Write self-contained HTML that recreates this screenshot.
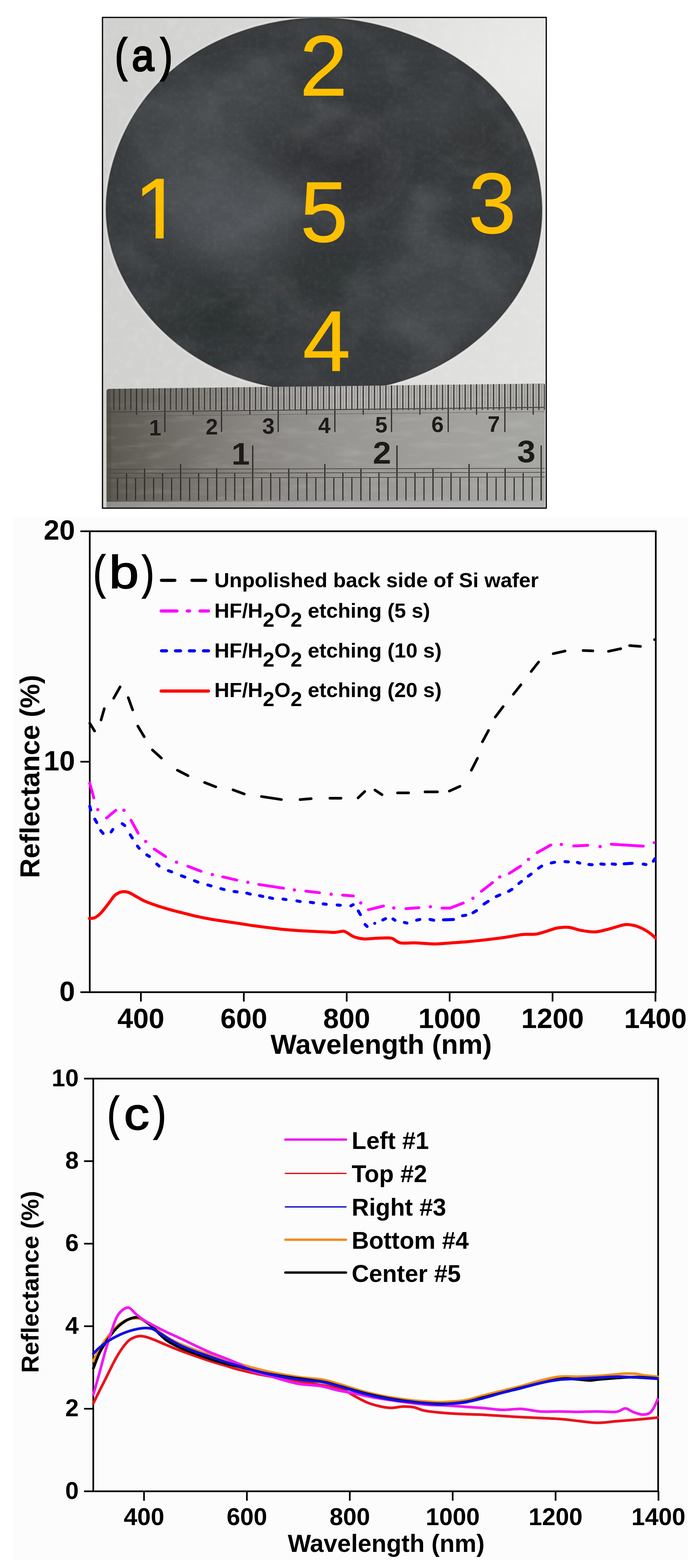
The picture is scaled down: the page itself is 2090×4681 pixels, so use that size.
<!DOCTYPE html>
<html><head><meta charset="utf-8">
<style>
html,body{margin:0;padding:0;background:#fff;}
body{width:2090px;height:4681px;position:relative;overflow:hidden;font-family:"Liberation Sans",Arial,sans-serif;}
.abs{position:absolute;}
#bgbox{left:38px;top:1543px;width:2015px;height:3115px;background:#fcfcfc;}
</style></head>
<body>
<div id="bgbox" class="abs"></div>
<style>
#frame{left:304px;top:50px;width:1321px;height:1461px;border:4px solid #151515;border-radius:2px;overflow:hidden;
background:radial-gradient(ellipse 500px 400px at 1300px 150px, rgba(235,235,233,0.9), rgba(235,235,233,0) 100%),linear-gradient(90deg,#d0d0ce 0%,#d6d6d4 35%,#dddddb 70%,#e2e2e0 100%);}
.num{position:absolute;color:#ffc000;font-size:256px;line-height:1;font-family:"Liberation Sans",Arial,sans-serif;-webkit-text-stroke:1.5px #ffc000;}
</style>
<div id="frame" class="abs"></div>
<svg class="abs" style="left:0;top:0" width="1700" height="1530" viewBox="0 0 1700 1530">
<defs>
<filter id="soft" x="-5%" y="-5%" width="110%" height="110%"><feGaussianBlur stdDeviation="1.2"/></filter>
<filter id="blur30" x="-50%" y="-50%" width="200%" height="200%"><feGaussianBlur stdDeviation="30"/></filter>
<clipPath id="wclip"><path d="M317.9,604.0 L318.4,594.5 L319.1,585.0 L320.1,575.5 L321.2,566.0 L322.4,556.6 L323.9,547.1 L325.6,537.7 L327.4,528.4 L329.4,519.0 L331.5,509.7 L333.8,500.5 L336.3,491.2 L339.0,482.0 L341.8,472.8 L344.7,463.7 L347.8,454.6 L351.1,445.6 L354.5,436.6 L358.1,427.6 L361.8,418.7 L365.7,409.8 L369.7,401.0 L373.9,392.2 L378.3,383.4 L382.7,374.8 L387.4,366.1 L392.2,357.6 L397.2,349.0 L402.3,340.6 L407.6,332.2 L413.0,323.9 L418.7,315.7 L424.4,307.5 L430.4,299.4 L436.5,291.4 L442.8,283.5 L449.3,275.6 L455.9,267.9 L462.7,260.3 L469.6,252.7 L476.8,245.3 L484.1,238.0 L491.5,230.8 L499.1,223.7 L506.9,216.7 L514.9,209.8 L523.0,203.1 L531.2,196.5 L539.6,190.0 L548.2,183.7 L556.8,177.5 L565.7,171.4 L574.6,165.5 L583.7,159.7 L592.9,154.0 L602.3,148.5 L611.7,143.2 L621.3,137.9 L631.0,132.9 L640.8,127.9 L650.7,123.2 L660.7,118.5 L670.8,114.0 L681.0,109.7 L691.3,105.5 L701.6,101.5 L712.1,97.6 L722.6,93.9 L733.2,90.3 L743.9,86.9 L754.7,83.6 L765.5,80.5 L776.4,77.6 L787.4,74.9 L798.4,72.3 L809.5,69.8 L820.6,67.6 L831.7,65.5 L842.9,63.6 L854.2,61.9 L865.5,60.3 L876.8,58.9 L888.2,57.7 L899.5,56.7 L910.9,55.9 L922.3,55.2 L933.7,54.8 L945.2,54.5 L956.6,54.4 L968.0,54.5 L979.4,54.8 L990.8,55.3 L1002.2,55.9 L1013.6,56.8 L1024.9,57.8 L1036.2,59.0 L1047.5,60.4 L1058.7,61.9 L1069.9,63.6 L1081.0,65.5 L1092.1,67.6 L1103.2,69.8 L1114.2,72.2 L1125.1,74.7 L1136.0,77.4 L1146.8,80.2 L1157.6,83.2 L1168.2,86.3 L1178.9,89.6 L1189.4,93.0 L1199.9,96.5 L1210.3,100.2 L1220.7,104.0 L1230.9,107.9 L1241.1,112.0 L1251.3,116.2 L1261.3,120.5 L1271.3,124.9 L1281.1,129.5 L1290.9,134.2 L1300.6,139.0 L1310.3,143.9 L1319.8,149.0 L1329.2,154.1 L1338.6,159.4 L1347.8,164.9 L1357.0,170.4 L1366.0,176.1 L1374.9,181.9 L1383.7,187.8 L1392.4,193.9 L1401.0,200.1 L1409.4,206.4 L1417.7,212.9 L1425.8,219.4 L1433.8,226.1 L1441.7,232.9 L1449.4,239.9 L1457.0,247.0 L1464.3,254.2 L1471.6,261.5 L1478.6,268.9 L1485.5,276.4 L1492.2,284.1 L1498.7,291.8 L1505.1,299.7 L1511.2,307.7 L1517.2,315.7 L1523.0,323.9 L1528.6,332.1 L1534.1,340.4 L1539.3,348.8 L1544.3,357.3 L1549.2,365.9 L1553.9,374.5 L1558.4,383.2 L1562.7,391.9 L1566.9,400.7 L1570.9,409.6 L1574.7,418.5 L1578.3,427.5 L1581.8,436.5 L1585.1,445.5 L1588.2,454.6 L1591.2,463.7 L1594.0,472.9 L1596.7,482.1 L1599.1,491.3 L1601.5,500.6 L1603.7,509.8 L1605.7,519.2 L1607.6,528.5 L1609.3,537.9 L1610.8,547.2 L1612.2,556.7 L1613.4,566.1 L1614.5,575.5 L1615.4,585.0 L1616.1,594.5 L1616.7,604.0 L1617.1,613.5 L1617.3,623.0 L1617.3,632.6 L1617.1,642.1 L1616.8,651.7 L1616.2,661.2 L1615.5,670.8 L1614.6,680.3 L1613.4,689.9 L1612.1,699.4 L1610.5,708.9 L1608.8,718.4 L1606.8,727.9 L1604.7,737.3 L1602.3,746.8 L1599.7,756.2 L1596.9,765.5 L1593.9,774.8 L1590.6,784.1 L1587.2,793.3 L1583.5,802.5 L1579.7,811.6 L1575.6,820.6 L1571.3,829.6 L1566.9,838.6 L1562.2,847.4 L1557.3,856.2 L1552.3,865.0 L1547.0,873.6 L1541.6,882.2 L1536.0,890.7 L1530.2,899.1 L1524.2,907.4 L1518.1,915.7 L1511.8,923.8 L1505.3,931.9 L1498.7,939.9 L1491.8,947.8 L1484.9,955.6 L1477.8,963.3 L1470.5,970.9 L1463.0,978.4 L1455.5,985.8 L1447.7,993.1 L1439.8,1000.3 L1431.8,1007.4 L1423.6,1014.4 L1415.3,1021.3 L1406.8,1028.0 L1398.2,1034.7 L1389.5,1041.2 L1380.6,1047.6 L1371.5,1053.8 L1362.4,1059.9 L1353.0,1065.9 L1343.6,1071.8 L1334.0,1077.4 L1324.3,1083.0 L1314.5,1088.4 L1304.5,1093.6 L1294.4,1098.7 L1284.2,1103.6 L1273.9,1108.3 L1263.5,1112.9 L1252.9,1117.3 L1242.3,1121.5 L1231.5,1125.5 L1220.7,1129.4 L1209.8,1133.1 L1198.8,1136.6 L1187.7,1139.9 L1176.5,1143.0 L1165.3,1146.0 L1153.9,1148.7 L1142.6,1151.3 L1131.2,1153.7 L1119.7,1155.9 L1108.2,1158.0 L1096.6,1159.8 L1085.0,1161.5 L1073.4,1163.0 L1061.8,1164.3 L1050.1,1165.5 L1038.4,1166.5 L1026.7,1167.3 L1014.9,1168.0 L1003.2,1168.5 L991.5,1168.8 L979.7,1169.0 L968.0,1169.0 L956.3,1168.8 L944.5,1168.5 L932.8,1168.0 L921.1,1167.3 L909.4,1166.5 L897.7,1165.6 L886.1,1164.5 L874.4,1163.2 L862.8,1161.7 L851.3,1160.1 L839.7,1158.4 L828.2,1156.4 L816.7,1154.3 L805.3,1152.0 L794.0,1149.6 L782.6,1147.0 L771.4,1144.2 L760.2,1141.2 L749.1,1138.1 L738.0,1134.8 L727.0,1131.3 L716.1,1127.7 L705.3,1123.8 L694.6,1119.8 L684.0,1115.6 L673.5,1111.3 L663.1,1106.7 L652.8,1102.0 L642.6,1097.1 L632.5,1092.1 L622.6,1086.9 L612.8,1081.5 L603.1,1076.0 L593.6,1070.3 L584.2,1064.5 L574.9,1058.5 L565.8,1052.4 L556.8,1046.1 L548.0,1039.7 L539.3,1033.1 L530.8,1026.5 L522.4,1019.7 L514.2,1012.8 L506.1,1005.8 L498.2,998.6 L490.4,991.4 L482.8,984.1 L475.3,976.6 L468.0,969.1 L460.9,961.5 L453.9,953.7 L447.0,945.9 L440.3,938.0 L433.8,930.0 L427.4,922.0 L421.1,913.9 L415.0,905.6 L409.1,897.4 L403.4,889.0 L397.8,880.6 L392.3,872.1 L387.0,863.5 L381.9,854.8 L377.0,846.1 L372.3,837.4 L367.7,828.5 L363.3,819.6 L359.1,810.7 L355.0,801.6 L351.2,792.6 L347.6,783.5 L344.1,774.3 L340.9,765.1 L337.8,755.8 L335.0,746.5 L332.4,737.1 L330.0,727.7 L327.8,718.3 L325.8,708.9 L324.0,699.4 L322.4,689.9 L321.1,680.4 L319.9,670.8 L319.0,661.3 L318.3,651.7 L317.8,642.2 L317.5,632.6 L317.4,623.1 L317.6,613.5 Z"/></clipPath>
<clipPath id="rclip"><path d="M326,1161 L1622,1145 Q1627,1145 1627,1150 L1627,1515 L318,1515 L318,1169 Q318,1161 326,1161 Z"/></clipPath>
<linearGradient id="rgrad" x1="318" y1="0" x2="1627" y2="0" gradientUnits="userSpaceOnUse"><stop offset="0" stop-color="#5a5650"/><stop offset="0.1" stop-color="#69655f"/><stop offset="0.3" stop-color="#86837f"/><stop offset="0.55" stop-color="#999794"/><stop offset="0.8" stop-color="#a2a19e"/><stop offset="1" stop-color="#a6a6a3"/></linearGradient>
</defs>
<filter id="bgnoise" x="0" y="0" width="100%" height="100%"><feTurbulence type="fractalNoise" baseFrequency="0.04" numOctaves="3" seed="11"/><feColorMatrix type="matrix" values="0 0 0 0 1  0 0 0 0 1  0 0 0 0 1  0 0 1.6 0 -0.75"/></filter>
<rect x="308" y="54" width="1321" height="1461" filter="url(#bgnoise)" opacity="0.18"/>
<filter id="halo" x="-5%" y="-5%" width="110%" height="110%"><feGaussianBlur stdDeviation="3"/></filter>
<path d="M317.9,604.0 L318.4,594.5 L319.1,585.0 L320.1,575.5 L321.2,566.0 L322.4,556.6 L323.9,547.1 L325.6,537.7 L327.4,528.4 L329.4,519.0 L331.5,509.7 L333.8,500.5 L336.3,491.2 L339.0,482.0 L341.8,472.8 L344.7,463.7 L347.8,454.6 L351.1,445.6 L354.5,436.6 L358.1,427.6 L361.8,418.7 L365.7,409.8 L369.7,401.0 L373.9,392.2 L378.3,383.4 L382.7,374.8 L387.4,366.1 L392.2,357.6 L397.2,349.0 L402.3,340.6 L407.6,332.2 L413.0,323.9 L418.7,315.7 L424.4,307.5 L430.4,299.4 L436.5,291.4 L442.8,283.5 L449.3,275.6 L455.9,267.9 L462.7,260.3 L469.6,252.7 L476.8,245.3 L484.1,238.0 L491.5,230.8 L499.1,223.7 L506.9,216.7 L514.9,209.8 L523.0,203.1 L531.2,196.5 L539.6,190.0 L548.2,183.7 L556.8,177.5 L565.7,171.4 L574.6,165.5 L583.7,159.7 L592.9,154.0 L602.3,148.5 L611.7,143.2 L621.3,137.9 L631.0,132.9 L640.8,127.9 L650.7,123.2 L660.7,118.5 L670.8,114.0 L681.0,109.7 L691.3,105.5 L701.6,101.5 L712.1,97.6 L722.6,93.9 L733.2,90.3 L743.9,86.9 L754.7,83.6 L765.5,80.5 L776.4,77.6 L787.4,74.9 L798.4,72.3 L809.5,69.8 L820.6,67.6 L831.7,65.5 L842.9,63.6 L854.2,61.9 L865.5,60.3 L876.8,58.9 L888.2,57.7 L899.5,56.7 L910.9,55.9 L922.3,55.2 L933.7,54.8 L945.2,54.5 L956.6,54.4 L968.0,54.5 L979.4,54.8 L990.8,55.3 L1002.2,55.9 L1013.6,56.8 L1024.9,57.8 L1036.2,59.0 L1047.5,60.4 L1058.7,61.9 L1069.9,63.6 L1081.0,65.5 L1092.1,67.6 L1103.2,69.8 L1114.2,72.2 L1125.1,74.7 L1136.0,77.4 L1146.8,80.2 L1157.6,83.2 L1168.2,86.3 L1178.9,89.6 L1189.4,93.0 L1199.9,96.5 L1210.3,100.2 L1220.7,104.0 L1230.9,107.9 L1241.1,112.0 L1251.3,116.2 L1261.3,120.5 L1271.3,124.9 L1281.1,129.5 L1290.9,134.2 L1300.6,139.0 L1310.3,143.9 L1319.8,149.0 L1329.2,154.1 L1338.6,159.4 L1347.8,164.9 L1357.0,170.4 L1366.0,176.1 L1374.9,181.9 L1383.7,187.8 L1392.4,193.9 L1401.0,200.1 L1409.4,206.4 L1417.7,212.9 L1425.8,219.4 L1433.8,226.1 L1441.7,232.9 L1449.4,239.9 L1457.0,247.0 L1464.3,254.2 L1471.6,261.5 L1478.6,268.9 L1485.5,276.4 L1492.2,284.1 L1498.7,291.8 L1505.1,299.7 L1511.2,307.7 L1517.2,315.7 L1523.0,323.9 L1528.6,332.1 L1534.1,340.4 L1539.3,348.8 L1544.3,357.3 L1549.2,365.9 L1553.9,374.5 L1558.4,383.2 L1562.7,391.9 L1566.9,400.7 L1570.9,409.6 L1574.7,418.5 L1578.3,427.5 L1581.8,436.5 L1585.1,445.5 L1588.2,454.6 L1591.2,463.7 L1594.0,472.9 L1596.7,482.1 L1599.1,491.3 L1601.5,500.6 L1603.7,509.8 L1605.7,519.2 L1607.6,528.5 L1609.3,537.9 L1610.8,547.2 L1612.2,556.7 L1613.4,566.1 L1614.5,575.5 L1615.4,585.0 L1616.1,594.5 L1616.7,604.0 L1617.1,613.5 L1617.3,623.0 L1617.3,632.6 L1617.1,642.1 L1616.8,651.7 L1616.2,661.2 L1615.5,670.8 L1614.6,680.3 L1613.4,689.9 L1612.1,699.4 L1610.5,708.9 L1608.8,718.4 L1606.8,727.9 L1604.7,737.3 L1602.3,746.8 L1599.7,756.2 L1596.9,765.5 L1593.9,774.8 L1590.6,784.1 L1587.2,793.3 L1583.5,802.5 L1579.7,811.6 L1575.6,820.6 L1571.3,829.6 L1566.9,838.6 L1562.2,847.4 L1557.3,856.2 L1552.3,865.0 L1547.0,873.6 L1541.6,882.2 L1536.0,890.7 L1530.2,899.1 L1524.2,907.4 L1518.1,915.7 L1511.8,923.8 L1505.3,931.9 L1498.7,939.9 L1491.8,947.8 L1484.9,955.6 L1477.8,963.3 L1470.5,970.9 L1463.0,978.4 L1455.5,985.8 L1447.7,993.1 L1439.8,1000.3 L1431.8,1007.4 L1423.6,1014.4 L1415.3,1021.3 L1406.8,1028.0 L1398.2,1034.7 L1389.5,1041.2 L1380.6,1047.6 L1371.5,1053.8 L1362.4,1059.9 L1353.0,1065.9 L1343.6,1071.8 L1334.0,1077.4 L1324.3,1083.0 L1314.5,1088.4 L1304.5,1093.6 L1294.4,1098.7 L1284.2,1103.6 L1273.9,1108.3 L1263.5,1112.9 L1252.9,1117.3 L1242.3,1121.5 L1231.5,1125.5 L1220.7,1129.4 L1209.8,1133.1 L1198.8,1136.6 L1187.7,1139.9 L1176.5,1143.0 L1165.3,1146.0 L1153.9,1148.7 L1142.6,1151.3 L1131.2,1153.7 L1119.7,1155.9 L1108.2,1158.0 L1096.6,1159.8 L1085.0,1161.5 L1073.4,1163.0 L1061.8,1164.3 L1050.1,1165.5 L1038.4,1166.5 L1026.7,1167.3 L1014.9,1168.0 L1003.2,1168.5 L991.5,1168.8 L979.7,1169.0 L968.0,1169.0 L956.3,1168.8 L944.5,1168.5 L932.8,1168.0 L921.1,1167.3 L909.4,1166.5 L897.7,1165.6 L886.1,1164.5 L874.4,1163.2 L862.8,1161.7 L851.3,1160.1 L839.7,1158.4 L828.2,1156.4 L816.7,1154.3 L805.3,1152.0 L794.0,1149.6 L782.6,1147.0 L771.4,1144.2 L760.2,1141.2 L749.1,1138.1 L738.0,1134.8 L727.0,1131.3 L716.1,1127.7 L705.3,1123.8 L694.6,1119.8 L684.0,1115.6 L673.5,1111.3 L663.1,1106.7 L652.8,1102.0 L642.6,1097.1 L632.5,1092.1 L622.6,1086.9 L612.8,1081.5 L603.1,1076.0 L593.6,1070.3 L584.2,1064.5 L574.9,1058.5 L565.8,1052.4 L556.8,1046.1 L548.0,1039.7 L539.3,1033.1 L530.8,1026.5 L522.4,1019.7 L514.2,1012.8 L506.1,1005.8 L498.2,998.6 L490.4,991.4 L482.8,984.1 L475.3,976.6 L468.0,969.1 L460.9,961.5 L453.9,953.7 L447.0,945.9 L440.3,938.0 L433.8,930.0 L427.4,922.0 L421.1,913.9 L415.0,905.6 L409.1,897.4 L403.4,889.0 L397.8,880.6 L392.3,872.1 L387.0,863.5 L381.9,854.8 L377.0,846.1 L372.3,837.4 L367.7,828.5 L363.3,819.6 L359.1,810.7 L355.0,801.6 L351.2,792.6 L347.6,783.5 L344.1,774.3 L340.9,765.1 L337.8,755.8 L335.0,746.5 L332.4,737.1 L330.0,727.7 L327.8,718.3 L325.8,708.9 L324.0,699.4 L322.4,689.9 L321.1,680.4 L319.9,670.8 L319.0,661.3 L318.3,651.7 L317.8,642.2 L317.5,632.6 L317.4,623.1 L317.6,613.5 Z" fill="none" stroke="#f4f4f2" stroke-width="10" opacity="0.6" filter="url(#halo)"/>
<g filter="url(#soft)"><path d="M317.9,604.0 L318.4,594.5 L319.1,585.0 L320.1,575.5 L321.2,566.0 L322.4,556.6 L323.9,547.1 L325.6,537.7 L327.4,528.4 L329.4,519.0 L331.5,509.7 L333.8,500.5 L336.3,491.2 L339.0,482.0 L341.8,472.8 L344.7,463.7 L347.8,454.6 L351.1,445.6 L354.5,436.6 L358.1,427.6 L361.8,418.7 L365.7,409.8 L369.7,401.0 L373.9,392.2 L378.3,383.4 L382.7,374.8 L387.4,366.1 L392.2,357.6 L397.2,349.0 L402.3,340.6 L407.6,332.2 L413.0,323.9 L418.7,315.7 L424.4,307.5 L430.4,299.4 L436.5,291.4 L442.8,283.5 L449.3,275.6 L455.9,267.9 L462.7,260.3 L469.6,252.7 L476.8,245.3 L484.1,238.0 L491.5,230.8 L499.1,223.7 L506.9,216.7 L514.9,209.8 L523.0,203.1 L531.2,196.5 L539.6,190.0 L548.2,183.7 L556.8,177.5 L565.7,171.4 L574.6,165.5 L583.7,159.7 L592.9,154.0 L602.3,148.5 L611.7,143.2 L621.3,137.9 L631.0,132.9 L640.8,127.9 L650.7,123.2 L660.7,118.5 L670.8,114.0 L681.0,109.7 L691.3,105.5 L701.6,101.5 L712.1,97.6 L722.6,93.9 L733.2,90.3 L743.9,86.9 L754.7,83.6 L765.5,80.5 L776.4,77.6 L787.4,74.9 L798.4,72.3 L809.5,69.8 L820.6,67.6 L831.7,65.5 L842.9,63.6 L854.2,61.9 L865.5,60.3 L876.8,58.9 L888.2,57.7 L899.5,56.7 L910.9,55.9 L922.3,55.2 L933.7,54.8 L945.2,54.5 L956.6,54.4 L968.0,54.5 L979.4,54.8 L990.8,55.3 L1002.2,55.9 L1013.6,56.8 L1024.9,57.8 L1036.2,59.0 L1047.5,60.4 L1058.7,61.9 L1069.9,63.6 L1081.0,65.5 L1092.1,67.6 L1103.2,69.8 L1114.2,72.2 L1125.1,74.7 L1136.0,77.4 L1146.8,80.2 L1157.6,83.2 L1168.2,86.3 L1178.9,89.6 L1189.4,93.0 L1199.9,96.5 L1210.3,100.2 L1220.7,104.0 L1230.9,107.9 L1241.1,112.0 L1251.3,116.2 L1261.3,120.5 L1271.3,124.9 L1281.1,129.5 L1290.9,134.2 L1300.6,139.0 L1310.3,143.9 L1319.8,149.0 L1329.2,154.1 L1338.6,159.4 L1347.8,164.9 L1357.0,170.4 L1366.0,176.1 L1374.9,181.9 L1383.7,187.8 L1392.4,193.9 L1401.0,200.1 L1409.4,206.4 L1417.7,212.9 L1425.8,219.4 L1433.8,226.1 L1441.7,232.9 L1449.4,239.9 L1457.0,247.0 L1464.3,254.2 L1471.6,261.5 L1478.6,268.9 L1485.5,276.4 L1492.2,284.1 L1498.7,291.8 L1505.1,299.7 L1511.2,307.7 L1517.2,315.7 L1523.0,323.9 L1528.6,332.1 L1534.1,340.4 L1539.3,348.8 L1544.3,357.3 L1549.2,365.9 L1553.9,374.5 L1558.4,383.2 L1562.7,391.9 L1566.9,400.7 L1570.9,409.6 L1574.7,418.5 L1578.3,427.5 L1581.8,436.5 L1585.1,445.5 L1588.2,454.6 L1591.2,463.7 L1594.0,472.9 L1596.7,482.1 L1599.1,491.3 L1601.5,500.6 L1603.7,509.8 L1605.7,519.2 L1607.6,528.5 L1609.3,537.9 L1610.8,547.2 L1612.2,556.7 L1613.4,566.1 L1614.5,575.5 L1615.4,585.0 L1616.1,594.5 L1616.7,604.0 L1617.1,613.5 L1617.3,623.0 L1617.3,632.6 L1617.1,642.1 L1616.8,651.7 L1616.2,661.2 L1615.5,670.8 L1614.6,680.3 L1613.4,689.9 L1612.1,699.4 L1610.5,708.9 L1608.8,718.4 L1606.8,727.9 L1604.7,737.3 L1602.3,746.8 L1599.7,756.2 L1596.9,765.5 L1593.9,774.8 L1590.6,784.1 L1587.2,793.3 L1583.5,802.5 L1579.7,811.6 L1575.6,820.6 L1571.3,829.6 L1566.9,838.6 L1562.2,847.4 L1557.3,856.2 L1552.3,865.0 L1547.0,873.6 L1541.6,882.2 L1536.0,890.7 L1530.2,899.1 L1524.2,907.4 L1518.1,915.7 L1511.8,923.8 L1505.3,931.9 L1498.7,939.9 L1491.8,947.8 L1484.9,955.6 L1477.8,963.3 L1470.5,970.9 L1463.0,978.4 L1455.5,985.8 L1447.7,993.1 L1439.8,1000.3 L1431.8,1007.4 L1423.6,1014.4 L1415.3,1021.3 L1406.8,1028.0 L1398.2,1034.7 L1389.5,1041.2 L1380.6,1047.6 L1371.5,1053.8 L1362.4,1059.9 L1353.0,1065.9 L1343.6,1071.8 L1334.0,1077.4 L1324.3,1083.0 L1314.5,1088.4 L1304.5,1093.6 L1294.4,1098.7 L1284.2,1103.6 L1273.9,1108.3 L1263.5,1112.9 L1252.9,1117.3 L1242.3,1121.5 L1231.5,1125.5 L1220.7,1129.4 L1209.8,1133.1 L1198.8,1136.6 L1187.7,1139.9 L1176.5,1143.0 L1165.3,1146.0 L1153.9,1148.7 L1142.6,1151.3 L1131.2,1153.7 L1119.7,1155.9 L1108.2,1158.0 L1096.6,1159.8 L1085.0,1161.5 L1073.4,1163.0 L1061.8,1164.3 L1050.1,1165.5 L1038.4,1166.5 L1026.7,1167.3 L1014.9,1168.0 L1003.2,1168.5 L991.5,1168.8 L979.7,1169.0 L968.0,1169.0 L956.3,1168.8 L944.5,1168.5 L932.8,1168.0 L921.1,1167.3 L909.4,1166.5 L897.7,1165.6 L886.1,1164.5 L874.4,1163.2 L862.8,1161.7 L851.3,1160.1 L839.7,1158.4 L828.2,1156.4 L816.7,1154.3 L805.3,1152.0 L794.0,1149.6 L782.6,1147.0 L771.4,1144.2 L760.2,1141.2 L749.1,1138.1 L738.0,1134.8 L727.0,1131.3 L716.1,1127.7 L705.3,1123.8 L694.6,1119.8 L684.0,1115.6 L673.5,1111.3 L663.1,1106.7 L652.8,1102.0 L642.6,1097.1 L632.5,1092.1 L622.6,1086.9 L612.8,1081.5 L603.1,1076.0 L593.6,1070.3 L584.2,1064.5 L574.9,1058.5 L565.8,1052.4 L556.8,1046.1 L548.0,1039.7 L539.3,1033.1 L530.8,1026.5 L522.4,1019.7 L514.2,1012.8 L506.1,1005.8 L498.2,998.6 L490.4,991.4 L482.8,984.1 L475.3,976.6 L468.0,969.1 L460.9,961.5 L453.9,953.7 L447.0,945.9 L440.3,938.0 L433.8,930.0 L427.4,922.0 L421.1,913.9 L415.0,905.6 L409.1,897.4 L403.4,889.0 L397.8,880.6 L392.3,872.1 L387.0,863.5 L381.9,854.8 L377.0,846.1 L372.3,837.4 L367.7,828.5 L363.3,819.6 L359.1,810.7 L355.0,801.6 L351.2,792.6 L347.6,783.5 L344.1,774.3 L340.9,765.1 L337.8,755.8 L335.0,746.5 L332.4,737.1 L330.0,727.7 L327.8,718.3 L325.8,708.9 L324.0,699.4 L322.4,689.9 L321.1,680.4 L319.9,670.8 L319.0,661.3 L318.3,651.7 L317.8,642.2 L317.5,632.6 L317.4,623.1 L317.6,613.5 Z" fill="#393a3c" stroke="#2a2b2c" stroke-width="3"/></g>
<filter id="wlight" x="0" y="0" width="100%" height="100%"><feTurbulence type="fractalNoise" baseFrequency="0.0045 0.006" numOctaves="4" seed="7"/><feColorMatrix type="matrix" values="0 0 0 0 0.31  0 0 0 0 0.325  0 0 0 0 0.33  2.6 0 0 0 -1.2"/></filter>
<filter id="wdark" x="0" y="0" width="100%" height="100%"><feTurbulence type="fractalNoise" baseFrequency="0.005 0.007" numOctaves="4" seed="21"/><feColorMatrix type="matrix" values="0 0 0 0 0.16  0 0 0 0 0.17  0 0 0 0 0.18  0 2.4 0 0 -1.15"/></filter>
<filter id="wgrain" x="0" y="0" width="100%" height="100%"><feTurbulence type="fractalNoise" baseFrequency="0.08" numOctaves="2" seed="4"/><feColorMatrix type="matrix" values="0 0 0 0 0.5  0 0 0 0 0.5  0 0 0 0 0.52  0 0 1.4 0 -0.62"/></filter>
<filter id="pblur" x="-30%" y="-30%" width="160%" height="160%"><feGaussianBlur stdDeviation="45"/></filter>
<g clip-path="url(#wclip)">
<g filter="url(#pblur)">
<ellipse cx="690" cy="640" rx="200" ry="150" fill="#595c61" opacity="0.6"/>
<ellipse cx="560" cy="480" rx="150" ry="220" fill="#52565a" opacity="0.5"/>
<ellipse cx="740" cy="300" rx="150" ry="90" fill="#505458" opacity="0.5"/>
<ellipse cx="1020" cy="480" rx="170" ry="130" fill="#2c2e31" opacity="0.6"/>
<ellipse cx="1020" cy="820" rx="170" ry="100" fill="#2e3033" opacity="0.5"/>
<ellipse cx="640" cy="940" rx="140" ry="130" fill="#2a2c2e" opacity="0.6"/>
<ellipse cx="1300" cy="880" rx="200" ry="150" fill="#4c5054" opacity="0.5"/>
<ellipse cx="1310" cy="330" rx="100" ry="60" fill="#505458" opacity="0.4"/>
<ellipse cx="1420" cy="420" rx="90" ry="70" fill="#2e3033" opacity="0.4"/>
</g>
<rect x="310" y="50" width="1320" height="1110" filter="url(#wlight)" opacity="0.15"/>
<rect x="310" y="50" width="1320" height="1110" filter="url(#wdark)" opacity="0.3"/>
<rect x="310" y="50" width="1320" height="1110" filter="url(#wgrain)" opacity="0.10"/>
</g>
<g clip-path="url(#rclip)">
<rect x="310" y="1140" width="1330" height="380" fill="url(#rgrad)"/>
<filter id="rnoise" x="0" y="0" width="100%" height="100%"><feTurbulence type="fractalNoise" baseFrequency="0.012 0.05" numOctaves="3" seed="5"/><feColorMatrix type="matrix" values="0 0 0 0 0.95  0 0 0 0 0.95  0 0 0 0 0.93  1.8 0 0 0 -0.85"/></filter>
<rect x="318" y="1140" width="1310" height="380" filter="url(#rnoise)" opacity="0.14"/>
<rect x="318" y="1140" width="14" height="380" fill="#4a4640" opacity="0.45"/>
<linearGradient id="bandg" x1="318" y1="0" x2="1627" y2="0" gradientUnits="userSpaceOnUse"><stop offset="0" stop-color="#fff" stop-opacity="0"/><stop offset="0.3" stop-color="#fff" stop-opacity="0.12"/><stop offset="0.55" stop-color="#fff" stop-opacity="0.28"/><stop offset="0.8" stop-color="#fff" stop-opacity="0.18"/><stop offset="1" stop-color="#fff" stop-opacity="0.1"/></linearGradient>
<path d="M318,1161 L1627,1145 L1627,1216 L318,1230 Z" fill="url(#bandg)"/>
<line x1="331.5" y1="1140" x2="331.5" y2="1220" stroke="#6a6761" stroke-width="1.2"/>
<line x1="339.9" y1="1140" x2="339.9" y2="1224" stroke="#3a3834" stroke-width="3.6"/>
<line x1="348.4" y1="1140" x2="348.4" y2="1220" stroke="#6a6761" stroke-width="1.2"/>
<line x1="356.8" y1="1140" x2="356.8" y2="1224" stroke="#3a3834" stroke-width="3.6"/>
<line x1="365.3" y1="1140" x2="365.3" y2="1220" stroke="#6a6761" stroke-width="1.2"/>
<line x1="373.8" y1="1140" x2="373.8" y2="1224" stroke="#3a3834" stroke-width="3.6"/>
<line x1="382.2" y1="1140" x2="382.2" y2="1220" stroke="#6a6761" stroke-width="1.2"/>
<line x1="390.7" y1="1140" x2="390.7" y2="1224" stroke="#3a3834" stroke-width="3.6"/>
<line x1="399.1" y1="1140" x2="399.1" y2="1220" stroke="#6a6761" stroke-width="1.2"/>
<line x1="407.6" y1="1140" x2="407.6" y2="1238" stroke="#2f2d2a" stroke-width="3.4"/>
<line x1="416.1" y1="1140" x2="416.1" y2="1220" stroke="#6a6761" stroke-width="1.2"/>
<line x1="424.5" y1="1140" x2="424.5" y2="1224" stroke="#3a3834" stroke-width="3.6"/>
<line x1="433.0" y1="1140" x2="433.0" y2="1220" stroke="#6a6761" stroke-width="1.2"/>
<line x1="441.4" y1="1140" x2="441.4" y2="1224" stroke="#3a3834" stroke-width="3.6"/>
<line x1="449.9" y1="1140" x2="449.9" y2="1220" stroke="#6a6761" stroke-width="1.2"/>
<line x1="458.4" y1="1140" x2="458.4" y2="1224" stroke="#3a3834" stroke-width="3.6"/>
<line x1="466.8" y1="1140" x2="466.8" y2="1220" stroke="#6a6761" stroke-width="1.2"/>
<line x1="475.3" y1="1140" x2="475.3" y2="1224" stroke="#3a3834" stroke-width="3.6"/>
<line x1="483.7" y1="1140" x2="483.7" y2="1220" stroke="#6a6761" stroke-width="1.2"/>
<line x1="492.2" y1="1140" x2="492.2" y2="1290" stroke="#2a2826" stroke-width="3.4"/>
<line x1="500.7" y1="1140" x2="500.7" y2="1220" stroke="#6a6761" stroke-width="1.2"/>
<line x1="509.1" y1="1140" x2="509.1" y2="1224" stroke="#3a3834" stroke-width="3.6"/>
<line x1="517.6" y1="1140" x2="517.6" y2="1220" stroke="#6a6761" stroke-width="1.2"/>
<line x1="526.0" y1="1140" x2="526.0" y2="1224" stroke="#3a3834" stroke-width="3.6"/>
<line x1="534.5" y1="1140" x2="534.5" y2="1220" stroke="#6a6761" stroke-width="1.2"/>
<line x1="543.0" y1="1140" x2="543.0" y2="1224" stroke="#3a3834" stroke-width="3.6"/>
<line x1="551.4" y1="1140" x2="551.4" y2="1220" stroke="#6a6761" stroke-width="1.2"/>
<line x1="559.9" y1="1140" x2="559.9" y2="1224" stroke="#3a3834" stroke-width="3.6"/>
<line x1="568.3" y1="1140" x2="568.3" y2="1220" stroke="#6a6761" stroke-width="1.2"/>
<line x1="576.8" y1="1140" x2="576.8" y2="1238" stroke="#2f2d2a" stroke-width="3.4"/>
<line x1="585.3" y1="1140" x2="585.3" y2="1220" stroke="#6a6761" stroke-width="1.2"/>
<line x1="593.7" y1="1140" x2="593.7" y2="1224" stroke="#3a3834" stroke-width="3.6"/>
<line x1="602.2" y1="1140" x2="602.2" y2="1220" stroke="#6a6761" stroke-width="1.2"/>
<line x1="610.6" y1="1140" x2="610.6" y2="1224" stroke="#3a3834" stroke-width="3.6"/>
<line x1="619.1" y1="1140" x2="619.1" y2="1220" stroke="#6a6761" stroke-width="1.2"/>
<line x1="627.6" y1="1140" x2="627.6" y2="1224" stroke="#3a3834" stroke-width="3.6"/>
<line x1="636.0" y1="1140" x2="636.0" y2="1220" stroke="#6a6761" stroke-width="1.2"/>
<line x1="644.5" y1="1140" x2="644.5" y2="1224" stroke="#3a3834" stroke-width="3.6"/>
<line x1="652.9" y1="1140" x2="652.9" y2="1220" stroke="#6a6761" stroke-width="1.2"/>
<line x1="661.4" y1="1140" x2="661.4" y2="1290" stroke="#2a2826" stroke-width="3.4"/>
<line x1="669.9" y1="1140" x2="669.9" y2="1220" stroke="#6a6761" stroke-width="1.2"/>
<line x1="678.3" y1="1140" x2="678.3" y2="1224" stroke="#3a3834" stroke-width="3.6"/>
<line x1="686.8" y1="1140" x2="686.8" y2="1220" stroke="#6a6761" stroke-width="1.2"/>
<line x1="695.2" y1="1140" x2="695.2" y2="1224" stroke="#3a3834" stroke-width="3.6"/>
<line x1="703.7" y1="1140" x2="703.7" y2="1220" stroke="#6a6761" stroke-width="1.2"/>
<line x1="712.2" y1="1140" x2="712.2" y2="1224" stroke="#3a3834" stroke-width="3.6"/>
<line x1="720.6" y1="1140" x2="720.6" y2="1220" stroke="#6a6761" stroke-width="1.2"/>
<line x1="729.1" y1="1140" x2="729.1" y2="1224" stroke="#3a3834" stroke-width="3.6"/>
<line x1="737.5" y1="1140" x2="737.5" y2="1220" stroke="#6a6761" stroke-width="1.2"/>
<line x1="746.0" y1="1140" x2="746.0" y2="1238" stroke="#2f2d2a" stroke-width="3.4"/>
<line x1="754.5" y1="1140" x2="754.5" y2="1220" stroke="#6a6761" stroke-width="1.2"/>
<line x1="762.9" y1="1140" x2="762.9" y2="1224" stroke="#3a3834" stroke-width="3.6"/>
<line x1="771.4" y1="1140" x2="771.4" y2="1220" stroke="#6a6761" stroke-width="1.2"/>
<line x1="779.8" y1="1140" x2="779.8" y2="1224" stroke="#3a3834" stroke-width="3.6"/>
<line x1="788.3" y1="1140" x2="788.3" y2="1220" stroke="#6a6761" stroke-width="1.2"/>
<line x1="796.8" y1="1140" x2="796.8" y2="1224" stroke="#3a3834" stroke-width="3.6"/>
<line x1="805.2" y1="1140" x2="805.2" y2="1220" stroke="#6a6761" stroke-width="1.2"/>
<line x1="813.7" y1="1140" x2="813.7" y2="1224" stroke="#3a3834" stroke-width="3.6"/>
<line x1="822.1" y1="1140" x2="822.1" y2="1220" stroke="#6a6761" stroke-width="1.2"/>
<line x1="830.6" y1="1140" x2="830.6" y2="1290" stroke="#2a2826" stroke-width="3.4"/>
<line x1="839.1" y1="1140" x2="839.1" y2="1220" stroke="#6a6761" stroke-width="1.2"/>
<line x1="847.5" y1="1140" x2="847.5" y2="1224" stroke="#3a3834" stroke-width="3.6"/>
<line x1="856.0" y1="1140" x2="856.0" y2="1220" stroke="#6a6761" stroke-width="1.2"/>
<line x1="864.4" y1="1140" x2="864.4" y2="1224" stroke="#3a3834" stroke-width="3.6"/>
<line x1="872.9" y1="1140" x2="872.9" y2="1220" stroke="#6a6761" stroke-width="1.2"/>
<line x1="881.4" y1="1140" x2="881.4" y2="1224" stroke="#3a3834" stroke-width="3.6"/>
<line x1="889.8" y1="1140" x2="889.8" y2="1220" stroke="#6a6761" stroke-width="1.2"/>
<line x1="898.3" y1="1140" x2="898.3" y2="1224" stroke="#3a3834" stroke-width="3.6"/>
<line x1="906.7" y1="1140" x2="906.7" y2="1220" stroke="#6a6761" stroke-width="1.2"/>
<line x1="915.2" y1="1140" x2="915.2" y2="1238" stroke="#2f2d2a" stroke-width="3.4"/>
<line x1="923.7" y1="1140" x2="923.7" y2="1220" stroke="#6a6761" stroke-width="1.2"/>
<line x1="932.1" y1="1140" x2="932.1" y2="1224" stroke="#3a3834" stroke-width="3.6"/>
<line x1="940.6" y1="1140" x2="940.6" y2="1220" stroke="#6a6761" stroke-width="1.2"/>
<line x1="949.0" y1="1140" x2="949.0" y2="1224" stroke="#3a3834" stroke-width="3.6"/>
<line x1="957.5" y1="1140" x2="957.5" y2="1220" stroke="#6a6761" stroke-width="1.2"/>
<line x1="966.0" y1="1140" x2="966.0" y2="1224" stroke="#3a3834" stroke-width="3.6"/>
<line x1="974.4" y1="1140" x2="974.4" y2="1220" stroke="#6a6761" stroke-width="1.2"/>
<line x1="982.9" y1="1140" x2="982.9" y2="1224" stroke="#3a3834" stroke-width="3.6"/>
<line x1="991.3" y1="1140" x2="991.3" y2="1220" stroke="#6a6761" stroke-width="1.2"/>
<line x1="999.8" y1="1140" x2="999.8" y2="1290" stroke="#2a2826" stroke-width="3.4"/>
<line x1="1008.3" y1="1140" x2="1008.3" y2="1220" stroke="#6a6761" stroke-width="1.2"/>
<line x1="1016.7" y1="1140" x2="1016.7" y2="1224" stroke="#3a3834" stroke-width="3.6"/>
<line x1="1025.2" y1="1140" x2="1025.2" y2="1220" stroke="#6a6761" stroke-width="1.2"/>
<line x1="1033.6" y1="1140" x2="1033.6" y2="1224" stroke="#3a3834" stroke-width="3.6"/>
<line x1="1042.1" y1="1140" x2="1042.1" y2="1220" stroke="#6a6761" stroke-width="1.2"/>
<line x1="1050.6" y1="1140" x2="1050.6" y2="1224" stroke="#3a3834" stroke-width="3.6"/>
<line x1="1059.0" y1="1140" x2="1059.0" y2="1220" stroke="#6a6761" stroke-width="1.2"/>
<line x1="1067.5" y1="1140" x2="1067.5" y2="1224" stroke="#3a3834" stroke-width="3.6"/>
<line x1="1075.9" y1="1140" x2="1075.9" y2="1220" stroke="#6a6761" stroke-width="1.2"/>
<line x1="1084.4" y1="1140" x2="1084.4" y2="1238" stroke="#2f2d2a" stroke-width="3.4"/>
<line x1="1092.9" y1="1140" x2="1092.9" y2="1220" stroke="#6a6761" stroke-width="1.2"/>
<line x1="1101.3" y1="1140" x2="1101.3" y2="1224" stroke="#3a3834" stroke-width="3.6"/>
<line x1="1109.8" y1="1140" x2="1109.8" y2="1220" stroke="#6a6761" stroke-width="1.2"/>
<line x1="1118.2" y1="1140" x2="1118.2" y2="1224" stroke="#3a3834" stroke-width="3.6"/>
<line x1="1126.7" y1="1140" x2="1126.7" y2="1220" stroke="#6a6761" stroke-width="1.2"/>
<line x1="1135.2" y1="1140" x2="1135.2" y2="1224" stroke="#3a3834" stroke-width="3.6"/>
<line x1="1143.6" y1="1140" x2="1143.6" y2="1220" stroke="#6a6761" stroke-width="1.2"/>
<line x1="1152.1" y1="1140" x2="1152.1" y2="1224" stroke="#3a3834" stroke-width="3.6"/>
<line x1="1160.5" y1="1140" x2="1160.5" y2="1220" stroke="#6a6761" stroke-width="1.2"/>
<line x1="1169.0" y1="1140" x2="1169.0" y2="1290" stroke="#2a2826" stroke-width="3.4"/>
<line x1="1177.5" y1="1140" x2="1177.5" y2="1220" stroke="#6a6761" stroke-width="1.2"/>
<line x1="1185.9" y1="1140" x2="1185.9" y2="1224" stroke="#3a3834" stroke-width="3.6"/>
<line x1="1194.4" y1="1140" x2="1194.4" y2="1220" stroke="#6a6761" stroke-width="1.2"/>
<line x1="1202.8" y1="1140" x2="1202.8" y2="1224" stroke="#3a3834" stroke-width="3.6"/>
<line x1="1211.3" y1="1140" x2="1211.3" y2="1220" stroke="#6a6761" stroke-width="1.2"/>
<line x1="1219.8" y1="1140" x2="1219.8" y2="1224" stroke="#3a3834" stroke-width="3.6"/>
<line x1="1228.2" y1="1140" x2="1228.2" y2="1220" stroke="#6a6761" stroke-width="1.2"/>
<line x1="1236.7" y1="1140" x2="1236.7" y2="1224" stroke="#3a3834" stroke-width="3.6"/>
<line x1="1245.1" y1="1140" x2="1245.1" y2="1220" stroke="#6a6761" stroke-width="1.2"/>
<line x1="1253.6" y1="1140" x2="1253.6" y2="1238" stroke="#2f2d2a" stroke-width="3.4"/>
<line x1="1262.1" y1="1140" x2="1262.1" y2="1220" stroke="#6a6761" stroke-width="1.2"/>
<line x1="1270.5" y1="1140" x2="1270.5" y2="1224" stroke="#3a3834" stroke-width="3.6"/>
<line x1="1279.0" y1="1140" x2="1279.0" y2="1220" stroke="#6a6761" stroke-width="1.2"/>
<line x1="1287.4" y1="1140" x2="1287.4" y2="1224" stroke="#3a3834" stroke-width="3.6"/>
<line x1="1295.9" y1="1140" x2="1295.9" y2="1220" stroke="#6a6761" stroke-width="1.2"/>
<line x1="1304.4" y1="1140" x2="1304.4" y2="1224" stroke="#3a3834" stroke-width="3.6"/>
<line x1="1312.8" y1="1140" x2="1312.8" y2="1220" stroke="#6a6761" stroke-width="1.2"/>
<line x1="1321.3" y1="1140" x2="1321.3" y2="1224" stroke="#3a3834" stroke-width="3.6"/>
<line x1="1329.7" y1="1140" x2="1329.7" y2="1220" stroke="#6a6761" stroke-width="1.2"/>
<line x1="1338.2" y1="1140" x2="1338.2" y2="1290" stroke="#2a2826" stroke-width="3.4"/>
<line x1="1346.7" y1="1140" x2="1346.7" y2="1220" stroke="#6a6761" stroke-width="1.2"/>
<line x1="1355.1" y1="1140" x2="1355.1" y2="1224" stroke="#3a3834" stroke-width="3.6"/>
<line x1="1363.6" y1="1140" x2="1363.6" y2="1220" stroke="#6a6761" stroke-width="1.2"/>
<line x1="1372.0" y1="1140" x2="1372.0" y2="1224" stroke="#3a3834" stroke-width="3.6"/>
<line x1="1380.5" y1="1140" x2="1380.5" y2="1220" stroke="#6a6761" stroke-width="1.2"/>
<line x1="1389.0" y1="1140" x2="1389.0" y2="1224" stroke="#3a3834" stroke-width="3.6"/>
<line x1="1397.4" y1="1140" x2="1397.4" y2="1220" stroke="#6a6761" stroke-width="1.2"/>
<line x1="1405.9" y1="1140" x2="1405.9" y2="1224" stroke="#3a3834" stroke-width="3.6"/>
<line x1="1414.3" y1="1140" x2="1414.3" y2="1220" stroke="#6a6761" stroke-width="1.2"/>
<line x1="1422.8" y1="1140" x2="1422.8" y2="1238" stroke="#2f2d2a" stroke-width="3.4"/>
<line x1="1431.3" y1="1140" x2="1431.3" y2="1220" stroke="#6a6761" stroke-width="1.2"/>
<line x1="1439.7" y1="1140" x2="1439.7" y2="1224" stroke="#3a3834" stroke-width="3.6"/>
<line x1="1448.2" y1="1140" x2="1448.2" y2="1220" stroke="#6a6761" stroke-width="1.2"/>
<line x1="1456.6" y1="1140" x2="1456.6" y2="1224" stroke="#3a3834" stroke-width="3.6"/>
<line x1="1465.1" y1="1140" x2="1465.1" y2="1220" stroke="#6a6761" stroke-width="1.2"/>
<line x1="1473.6" y1="1140" x2="1473.6" y2="1224" stroke="#3a3834" stroke-width="3.6"/>
<line x1="1482.0" y1="1140" x2="1482.0" y2="1220" stroke="#6a6761" stroke-width="1.2"/>
<line x1="1490.5" y1="1140" x2="1490.5" y2="1224" stroke="#3a3834" stroke-width="3.6"/>
<line x1="1498.9" y1="1140" x2="1498.9" y2="1220" stroke="#6a6761" stroke-width="1.2"/>
<line x1="1507.4" y1="1140" x2="1507.4" y2="1290" stroke="#2a2826" stroke-width="3.4"/>
<line x1="1515.9" y1="1140" x2="1515.9" y2="1220" stroke="#6a6761" stroke-width="1.2"/>
<line x1="1524.3" y1="1140" x2="1524.3" y2="1224" stroke="#3a3834" stroke-width="3.6"/>
<line x1="1532.8" y1="1140" x2="1532.8" y2="1220" stroke="#6a6761" stroke-width="1.2"/>
<line x1="1541.2" y1="1140" x2="1541.2" y2="1224" stroke="#3a3834" stroke-width="3.6"/>
<line x1="1549.7" y1="1140" x2="1549.7" y2="1220" stroke="#6a6761" stroke-width="1.2"/>
<line x1="1558.2" y1="1140" x2="1558.2" y2="1224" stroke="#3a3834" stroke-width="3.6"/>
<line x1="1566.6" y1="1140" x2="1566.6" y2="1220" stroke="#6a6761" stroke-width="1.2"/>
<line x1="1575.1" y1="1140" x2="1575.1" y2="1224" stroke="#3a3834" stroke-width="3.6"/>
<line x1="1583.5" y1="1140" x2="1583.5" y2="1220" stroke="#6a6761" stroke-width="1.2"/>
<line x1="1592.0" y1="1140" x2="1592.0" y2="1238" stroke="#2f2d2a" stroke-width="3.4"/>
<line x1="1600.5" y1="1140" x2="1600.5" y2="1220" stroke="#6a6761" stroke-width="1.2"/>
<line x1="1608.9" y1="1140" x2="1608.9" y2="1224" stroke="#3a3834" stroke-width="3.6"/>
<line x1="1617.4" y1="1140" x2="1617.4" y2="1220" stroke="#6a6761" stroke-width="1.2"/>
<line x1="1625.8" y1="1140" x2="1625.8" y2="1224" stroke="#3a3834" stroke-width="3.6"/>
<path d="M318,1230 L1627,1216" stroke="#4a4743" stroke-width="3" fill="none"/>
<path d="M318,1243 L1627,1229" stroke="#5a5753" stroke-width="2" fill="none" opacity="0.6"/>
<line x1="350.9" y1="1426" x2="350.9" y2="1494" stroke="#2e2c29" stroke-width="3.2"/>
<line x1="377.8" y1="1412" x2="377.8" y2="1494" stroke="#2e2c29" stroke-width="3.4"/>
<line x1="404.7" y1="1426" x2="404.7" y2="1494" stroke="#2e2c29" stroke-width="3.2"/>
<line x1="431.6" y1="1398" x2="431.6" y2="1494" stroke="#2e2c29" stroke-width="3.6"/>
<line x1="458.6" y1="1426" x2="458.6" y2="1494" stroke="#2e2c29" stroke-width="3.2"/>
<line x1="485.5" y1="1412" x2="485.5" y2="1494" stroke="#2e2c29" stroke-width="3.4"/>
<line x1="512.4" y1="1426" x2="512.4" y2="1494" stroke="#2e2c29" stroke-width="3.2"/>
<line x1="539.3" y1="1385" x2="539.3" y2="1494" stroke="#2e2c29" stroke-width="3.6"/>
<line x1="566.2" y1="1426" x2="566.2" y2="1494" stroke="#2e2c29" stroke-width="3.2"/>
<line x1="593.1" y1="1412" x2="593.1" y2="1494" stroke="#2e2c29" stroke-width="3.4"/>
<line x1="620.0" y1="1426" x2="620.0" y2="1494" stroke="#2e2c29" stroke-width="3.2"/>
<line x1="647.0" y1="1398" x2="647.0" y2="1494" stroke="#2e2c29" stroke-width="3.6"/>
<line x1="673.9" y1="1426" x2="673.9" y2="1494" stroke="#2e2c29" stroke-width="3.2"/>
<line x1="700.8" y1="1412" x2="700.8" y2="1494" stroke="#2e2c29" stroke-width="3.4"/>
<line x1="727.7" y1="1426" x2="727.7" y2="1494" stroke="#2e2c29" stroke-width="3.2"/>
<line x1="754.6" y1="1330" x2="754.6" y2="1494" stroke="#2e2c29" stroke-width="3.8"/>
<line x1="781.5" y1="1426" x2="781.5" y2="1494" stroke="#2e2c29" stroke-width="3.2"/>
<line x1="808.4" y1="1412" x2="808.4" y2="1494" stroke="#2e2c29" stroke-width="3.4"/>
<line x1="835.3" y1="1426" x2="835.3" y2="1494" stroke="#2e2c29" stroke-width="3.2"/>
<line x1="862.2" y1="1398" x2="862.2" y2="1494" stroke="#2e2c29" stroke-width="3.6"/>
<line x1="889.2" y1="1426" x2="889.2" y2="1494" stroke="#2e2c29" stroke-width="3.2"/>
<line x1="916.1" y1="1412" x2="916.1" y2="1494" stroke="#2e2c29" stroke-width="3.4"/>
<line x1="943.0" y1="1426" x2="943.0" y2="1494" stroke="#2e2c29" stroke-width="3.2"/>
<line x1="969.9" y1="1385" x2="969.9" y2="1494" stroke="#2e2c29" stroke-width="3.6"/>
<line x1="996.8" y1="1426" x2="996.8" y2="1494" stroke="#2e2c29" stroke-width="3.2"/>
<line x1="1023.7" y1="1412" x2="1023.7" y2="1494" stroke="#2e2c29" stroke-width="3.4"/>
<line x1="1050.6" y1="1426" x2="1050.6" y2="1494" stroke="#2e2c29" stroke-width="3.2"/>
<line x1="1077.6" y1="1398" x2="1077.6" y2="1494" stroke="#2e2c29" stroke-width="3.6"/>
<line x1="1104.5" y1="1426" x2="1104.5" y2="1494" stroke="#2e2c29" stroke-width="3.2"/>
<line x1="1131.4" y1="1412" x2="1131.4" y2="1494" stroke="#2e2c29" stroke-width="3.4"/>
<line x1="1158.3" y1="1426" x2="1158.3" y2="1494" stroke="#2e2c29" stroke-width="3.2"/>
<line x1="1185.2" y1="1330" x2="1185.2" y2="1494" stroke="#2e2c29" stroke-width="3.8"/>
<line x1="1212.1" y1="1426" x2="1212.1" y2="1494" stroke="#2e2c29" stroke-width="3.2"/>
<line x1="1239.0" y1="1412" x2="1239.0" y2="1494" stroke="#2e2c29" stroke-width="3.4"/>
<line x1="1265.9" y1="1426" x2="1265.9" y2="1494" stroke="#2e2c29" stroke-width="3.2"/>
<line x1="1292.8" y1="1398" x2="1292.8" y2="1494" stroke="#2e2c29" stroke-width="3.6"/>
<line x1="1319.8" y1="1426" x2="1319.8" y2="1494" stroke="#2e2c29" stroke-width="3.2"/>
<line x1="1346.7" y1="1412" x2="1346.7" y2="1494" stroke="#2e2c29" stroke-width="3.4"/>
<line x1="1373.6" y1="1426" x2="1373.6" y2="1494" stroke="#2e2c29" stroke-width="3.2"/>
<line x1="1400.5" y1="1385" x2="1400.5" y2="1494" stroke="#2e2c29" stroke-width="3.6"/>
<line x1="1427.4" y1="1426" x2="1427.4" y2="1494" stroke="#2e2c29" stroke-width="3.2"/>
<line x1="1454.3" y1="1412" x2="1454.3" y2="1494" stroke="#2e2c29" stroke-width="3.4"/>
<line x1="1481.2" y1="1426" x2="1481.2" y2="1494" stroke="#2e2c29" stroke-width="3.2"/>
<line x1="1508.2" y1="1398" x2="1508.2" y2="1494" stroke="#2e2c29" stroke-width="3.6"/>
<line x1="1535.1" y1="1426" x2="1535.1" y2="1494" stroke="#2e2c29" stroke-width="3.2"/>
<line x1="1562.0" y1="1412" x2="1562.0" y2="1494" stroke="#2e2c29" stroke-width="3.4"/>
<line x1="1588.9" y1="1426" x2="1588.9" y2="1494" stroke="#2e2c29" stroke-width="3.2"/>
<line x1="1615.8" y1="1330" x2="1615.8" y2="1494" stroke="#2e2c29" stroke-width="3.8"/>
<line x1="318" y1="1401" x2="1627" y2="1398" stroke="#4a4743" stroke-width="2.2"/>
<line x1="318" y1="1413" x2="1627" y2="1410" stroke="#4a4743" stroke-width="2.2"/>
<line x1="318" y1="1427" x2="1627" y2="1424" stroke="#4a4743" stroke-width="2.2"/>
<rect x="318" y="1498" width="1309" height="17" fill="#b8b7b4" opacity="0.6"/>
</g>
<text x="445" y="1300" font-family="Liberation Sans,Arial,sans-serif" font-weight="bold" font-size="66" fill="#1c1b1a">1</text>
<text x="614" y="1297" font-family="Liberation Sans,Arial,sans-serif" font-weight="bold" font-size="66" fill="#1c1b1a">2</text>
<text x="783" y="1295" font-family="Liberation Sans,Arial,sans-serif" font-weight="bold" font-size="66" fill="#1c1b1a">3</text>
<text x="950" y="1293" font-family="Liberation Sans,Arial,sans-serif" font-weight="bold" font-size="66" fill="#1c1b1a">4</text>
<text x="1120" y="1291" font-family="Liberation Sans,Arial,sans-serif" font-weight="bold" font-size="66" fill="#1c1b1a">5</text>
<text x="1288" y="1290" font-family="Liberation Sans,Arial,sans-serif" font-weight="bold" font-size="66" fill="#1c1b1a">6</text>
<text x="1456" y="1289" font-family="Liberation Sans,Arial,sans-serif" font-weight="bold" font-size="66" fill="#1c1b1a">7</text>
<text transform="translate(691,1387) scale(1.06,1)" font-family="Liberation Sans,Arial,sans-serif" font-weight="bold" font-size="93" fill="#1c1b1a">1</text>
<text transform="translate(1113,1383.5) scale(1.06,1)" font-family="Liberation Sans,Arial,sans-serif" font-weight="bold" font-size="93" fill="#1c1b1a">2</text>
<text transform="translate(1544,1379.5) scale(1.06,1)" font-family="Liberation Sans,Arial,sans-serif" font-weight="bold" font-size="93" fill="#1c1b1a">3</text>
<text transform="translate(343.8,211.7) scale(0.761,1)" font-family="Liberation Sans,Arial,sans-serif" font-size="138.0" fill="#000" stroke="#000" stroke-width="5.0">(</text>
<text transform="translate(393.7,211.1) scale(0.905,1)" font-family="Liberation Sans,Arial,sans-serif" font-size="131.3" fill="#000" stroke="#000" stroke-width="5.0">a</text>
<text transform="translate(479.6,211.7) scale(0.761,1)" font-family="Liberation Sans,Arial,sans-serif" font-size="138.0" fill="#000" stroke="#000" stroke-width="5.0">)</text>
</svg>
<div class="num" style="left:401px;top:493.5px;clip-path:polygon(0 0,100% 0,100% 195px,87.5px 195px,87.5px 100%,63.5px 100%,63.5px 195px,0 195px);">1</div>
<div class="num" style="left:895px;top:68px;">2</div>
<div class="num" style="left:1398.5px;top:479px;">3</div>
<div class="num" style="left:904px;top:890px;">4</div>
<div class="num" style="left:896.5px;top:505px;">5</div>
<svg class="abs" style="left:0;top:0" width="2090" height="4681" viewBox="0 0 2090 4681">
<g fill="none" stroke="#000" stroke-width="5">
<rect x="268" y="1586" width="1690" height="1376"/>
<line x1="240" y1="2962" x2="268" y2="2962"/>
<line x1="240" y1="2274" x2="268" y2="2274"/>
<line x1="240" y1="1586" x2="268" y2="1586"/>
<line x1="420.7" y1="2962" x2="420.7" y2="2990"/>
<line x1="728.0" y1="2962" x2="728.0" y2="2990"/>
<line x1="1035.2" y1="2962" x2="1035.2" y2="2990"/>
<line x1="1342.5" y1="2962" x2="1342.5" y2="2990"/>
<line x1="1649.8" y1="2962" x2="1649.8" y2="2990"/>
<line x1="1957.0" y1="2962" x2="1957.0" y2="2990"/>
</g>
<g fill="none" stroke-width="8" stroke-linejoin="round" stroke-linecap="round">
<path d="M267.0,2742.0 C269.6,2741.6 277.4,2742.1 282.6,2739.8 C287.8,2737.6 293.5,2733.0 298.4,2728.5 C303.3,2724.0 307.1,2718.7 312.0,2712.7 C316.9,2706.7 322.9,2698.7 327.8,2692.3 C332.7,2685.9 336.9,2678.8 341.4,2674.3 C345.9,2669.8 350.1,2667.3 355.0,2665.2 C359.9,2663.1 365.5,2661.8 370.8,2661.8 C376.1,2661.8 380.6,2662.8 386.6,2665.2 C392.6,2667.6 399.8,2672.5 407.0,2676.5 C414.2,2680.5 422.1,2685.4 429.6,2689.0 C437.1,2692.6 442.8,2694.6 452.2,2698.0 C461.6,2701.4 474.7,2705.8 486.0,2709.3 C497.3,2712.8 510.4,2716.4 520.0,2719.0 C529.6,2721.6 532.3,2722.0 543.5,2724.8 C554.7,2727.6 572.5,2732.4 587.0,2735.7 C601.5,2738.9 615.9,2741.8 630.4,2744.3 C644.9,2746.9 659.5,2748.8 674.0,2751.0 C688.5,2753.2 702.9,2755.2 717.4,2757.4 C731.9,2759.6 746.6,2762.0 761.0,2764.0 C775.4,2766.0 789.5,2767.8 804.0,2769.6 C818.5,2771.4 833.5,2773.4 848.0,2774.8 C862.5,2776.2 876.5,2777.4 891.0,2778.3 C905.5,2779.2 920.5,2779.7 935.0,2780.4 C949.5,2781.1 967.2,2782.1 978.0,2782.6 C988.8,2783.1 992.3,2783.9 1000.0,2783.5 C1007.7,2783.1 1018.2,2780.0 1024.0,2780.0 C1029.8,2780.0 1029.4,2780.8 1034.8,2783.5 C1040.2,2786.2 1047.8,2793.2 1056.5,2796.5 C1065.2,2799.8 1076.1,2802.2 1087.0,2803.0 C1097.9,2803.8 1109.4,2801.5 1121.7,2801.0 C1134.0,2800.5 1152.3,2799.7 1161.0,2800.0 C1169.7,2800.3 1168.2,2800.5 1174.0,2803.0 C1179.8,2805.5 1184.8,2812.8 1195.6,2814.8 C1206.4,2816.8 1224.5,2814.4 1239.0,2814.8 C1253.5,2815.2 1271.8,2816.9 1282.6,2817.4 C1293.4,2817.9 1293.1,2818.4 1304.0,2818.0 C1314.9,2817.6 1333.5,2815.9 1348.0,2814.8 C1362.5,2813.8 1376.5,2812.9 1391.0,2811.7 C1405.5,2810.5 1420.0,2809.0 1434.8,2807.4 C1449.6,2805.8 1465.4,2803.9 1480.0,2802.0 C1494.6,2800.1 1509.1,2798.1 1522.6,2796.0 C1536.1,2793.9 1548.2,2790.9 1561.0,2789.7 C1573.8,2788.5 1588.0,2790.2 1599.3,2788.8 C1610.6,2787.4 1618.3,2784.1 1629.0,2781.0 C1639.7,2777.9 1651.8,2772.6 1663.2,2770.5 C1674.6,2768.4 1685.2,2767.1 1697.3,2768.3 C1709.4,2769.5 1722.1,2775.4 1735.6,2777.7 C1749.1,2780.0 1764.1,2782.8 1778.3,2782.0 C1792.5,2781.2 1806.8,2776.2 1821.0,2772.6 C1835.2,2769.0 1852.2,2762.5 1863.5,2760.7 C1874.8,2758.9 1880.5,2760.4 1889.0,2762.0 C1897.5,2763.6 1906.1,2766.6 1914.6,2770.5 C1923.1,2774.4 1932.9,2780.4 1940.0,2785.4 C1947.1,2790.4 1954.3,2797.8 1957.2,2800.3" stroke="#ff0000" stroke-width="9"/>
<path d="M268.0,2406.9 L271.0,2418.1 M283.0,2445.4 L289.0,2455.6 M300.6,2479.5 L307.8,2488.0 M331.8,2483.7 L336.8,2476.3 M364.9,2458.9 L372.5,2464.6 M389.1,2492.1 L394.9,2501.6 M410.4,2525.8 L415.6,2532.5 M438.2,2552.1 L446.2,2556.9 M468.1,2579.6 L474.9,2585.4 M502.8,2599.3 L512.7,2602.7 M541.7,2614.4 L551.9,2618.2 M580.7,2629.4 L591.1,2633.4 M620.4,2642.0 L630.1,2644.6 M659.5,2653.0 L669.1,2655.5 M698.8,2661.5 L708.0,2662.5 M736.8,2666.2 L747.2,2669.3 M774.9,2673.9 L784.8,2676.1 M804.9,2679.9 L814.1,2682.1 M845.0,2684.1 L854.0,2685.4 M886.5,2689.4 L896.1,2691.3 M926.6,2693.6 L936.0,2695.0 M965.0,2698.5 L974.0,2699.5 M1006.6,2701.8 L1016.0,2702.4 M1047.6,2704.2 L1054.4,2700.8 M1069.9,2719.5 L1076.1,2730.5 M1089.9,2759.8 L1096.1,2765.9 M1118.8,2756.6 L1118.9,2756.6 M1142.7,2746.4 L1151.1,2742.6 M1173.3,2743.3 L1179.3,2747.3 M1207.4,2753.9 L1215.1,2755.6 M1243.9,2747.1 L1253.5,2744.9 M1283.9,2744.8 L1295.1,2747.2 M1324.0,2745.9 L1354.0,2745.1 M1381.0,2733.6 L1390.8,2732.4 M1412.1,2724.9 L1422.6,2718.6 M1445.1,2698.9 L1457.6,2690.8 M1481.7,2676.4 L1492.3,2671.6 M1518.4,2661.0 L1528.6,2655.0 M1549.1,2637.5 L1556.9,2631.5 M1577.2,2615.6 L1585.8,2609.4 M1607.9,2591.8 L1617.3,2585.6 M1645.9,2576.2 L1655.9,2574.2 M1687.0,2572.3 L1696.8,2573.1 M1724.2,2574.6 L1730.9,2576.8 M1758.3,2580.7 L1768.0,2581.4 M1794.0,2579.3 L1803.8,2580.2 M1827.8,2579.3 L1837.6,2580.2 M1863.5,2578.8 L1887.5,2577.2 M1920.4,2579.6 L1928.6,2581.0 M1950.7,2571.1 L1955.4,2563.4" stroke="#0000ff" stroke-width="9"/>
<path d="M267.8,2337.9 L280.2,2382.1 M317.9,2442.1 L345.7,2418.9 M391.1,2448.6 L412.5,2487.4 M460.5,2534.7 L494.5,2557.3 M560.8,2586.1 L600.2,2600.9 M664.9,2617.7 L707.1,2627.3 M772.6,2640.4 L846.6,2651.6 M913.0,2660.3 L954.0,2665.1 M1023.0,2672.2 L1055.0,2674.8 M1099.9,2715.8 L1145.1,2704.7 M1211.7,2712.8 L1251.0,2709.8 M1319.5,2711.0 L1344.0,2711.0 L1383.2,2695.7 M1437.2,2660.8 L1470.6,2634.8 M1520.5,2607.4 L1554.5,2585.6 M1603.6,2545.5 L1644.7,2522.5 M1712.7,2525.5 L1754.9,2523.6 M1825.0,2520.2 L1870.0,2523.0 L1920.6,2526.1 M1952.8,2515.8 L1952.9,2515.8" stroke="#ff00ff" stroke-width="8.5"/>
<path d="M268.1,2159.1 L282.4,2182.4 M301.8,2149.1 L311.2,2115.9 M339.5,2084.4 L358.5,2050.6 M383.0,2082.8 L396.0,2119.2 M411.5,2167.6 L430.5,2199.4 M455.2,2239.0 L481.8,2263.0 M529.7,2299.4 L561.3,2315.6 M610.8,2336.1 L644.2,2348.9 M695.8,2358.0 L729.2,2370.3 M780.8,2377.9 L840.0,2386.9 M896.0,2387.1 L929.0,2384.3 M985.0,2383.0 L1018.0,2383.0 M1069.2,2381.9 L1088.8,2363.1 M1119.5,2358.6 L1140.5,2372.4 M1187.0,2367.0 L1220.0,2367.0 M1269.0,2364.0 L1306.0,2364.0 M1341.7,2361.7 L1373.3,2347.3 M1407.4,2299.3 L1425.6,2263.7 M1440.4,2214.4 L1458.6,2180.6 M1478.8,2140.6 L1502.2,2109.4 M1532.9,2072.6 L1555.1,2044.4 M1585.9,2004.6 L1608.1,1976.4 M1651.9,1951.4 L1687.1,1943.6 M1741.0,1942.1 L1770.0,1942.9 M1816.9,1944.4 L1853.1,1936.6 M1880.0,1927.2 L1912.0,1929.8 M1954.5,1909.5 L1954.6,1909.5" stroke="#000"/>
</g>
<g fill="#ff00ff"><circle cx="292" cy="2417" r="5"/><circle cx="370" cy="2419" r="5"/><circle cx="435" cy="2512" r="5"/><circle cx="527" cy="2574" r="5"/><circle cx="634" cy="2611" r="5"/><circle cx="740" cy="2634" r="5"/><circle cx="879" cy="2656.7" r="5"/><circle cx="988.7" cy="2669.6" r="5"/><circle cx="1077" cy="2695.6" r="5"/><circle cx="1175.7" cy="2710.6" r="5"/><circle cx="1285" cy="2707" r="5"/><circle cx="1412" cy="2681.7" r="5"/><circle cx="1492" cy="2618" r="5"/><circle cx="1577.8" cy="2565.6" r="5"/><circle cx="1676" cy="2521" r="5"/><circle cx="1791.7" cy="2527.4" r="5"/></g>
<g fill="none" stroke-width="9.5" stroke-linecap="round">
<path d="M482,1732.4 L522,1732.4 M573,1732.4 L614,1732.4" stroke="#000"/>
<path d="M481,1824 L528.5,1824 M559,1824 L566,1824 M597,1824 L622.5,1824" stroke="#ff00ff"/>
<path d="M482.2,1943 L497.2,1943 M524.0,1943 L539.0,1943 M565.5,1943 L580.5,1943 M607.5,1943 L622.5,1943" stroke="#0000ff"/>
<path d="M481,2063 L622.5,2063" stroke="#ff0000"/>
</g>
<g font-family="'Liberation Sans',Arial,sans-serif" font-weight="bold" font-size="84" fill="#000">
<text x="224" y="1611" text-anchor="end">20</text>
<text x="224" y="2300" text-anchor="end">10</text>
<text x="224" y="2988" text-anchor="end">0</text>
<text x="420.7" y="3069" text-anchor="middle">400</text>
<text x="728.0" y="3069" text-anchor="middle">600</text>
<text x="1035.2" y="3069" text-anchor="middle">800</text>
<text x="1342.5" y="3069" text-anchor="middle">1000</text>
<text x="1649.8" y="3069" text-anchor="middle">1200</text>
<text x="1957.0" y="3069" text-anchor="middle">1400</text>
<text x="1138" y="3146" text-anchor="middle" font-size="82.4">Wavelength (nm)</text>
<text transform="translate(117,2318) rotate(-90)" text-anchor="middle" font-size="81.5">Reflectance (%)</text>
</g>
<text transform="translate(278.5,1756.5) scale(0.777,1)" font-family="Liberation Sans,Arial,sans-serif" font-size="140.1" fill="#000" stroke="#000" stroke-width="3.0">(</text>
<text transform="translate(325.8,1756.4) scale(1.157,1)" font-family="Liberation Sans,Arial,sans-serif" font-size="137.7" fill="#000" stroke="#000" stroke-width="3.0">b</text>
<text transform="translate(424.1,1756.5) scale(0.774,1)" font-family="Liberation Sans,Arial,sans-serif" font-size="140.1" fill="#000" stroke="#000" stroke-width="3.0">)</text>
<g font-family="'Liberation Sans',Arial,sans-serif" font-weight="bold" font-size="62" fill="#000">
<text x="640" y="1753">Unpolished back side of Si wafer</text>
<text x="640" y="1844">HF/H<tspan dy="27">2</tspan><tspan dy="-27">O</tspan><tspan dy="27">2</tspan><tspan dy="-27"> etching (5 s)</tspan></text>
<text x="640" y="1963">HF/H<tspan dy="27">2</tspan><tspan dy="-27">O</tspan><tspan dy="27">2</tspan><tspan dy="-27"> etching (10 s)</tspan></text>
<text x="640" y="2081">HF/H<tspan dy="27">2</tspan><tspan dy="-27">O</tspan><tspan dy="27">2</tspan><tspan dy="-27"> etching (20 s)</tspan></text>
</g>
<g fill="none" stroke="#000" stroke-width="5">
<rect x="278.5" y="3220" width="1686.5" height="1232"/>
<line x1="251" y1="4452.0" x2="278.5" y2="4452.0"/>
<line x1="251" y1="4205.6" x2="278.5" y2="4205.6"/>
<line x1="251" y1="3959.2" x2="278.5" y2="3959.2"/>
<line x1="251" y1="3712.8" x2="278.5" y2="3712.8"/>
<line x1="251" y1="3466.4" x2="278.5" y2="3466.4"/>
<line x1="251" y1="3220.0" x2="278.5" y2="3220.0"/>
<line x1="430.0" y1="4452" x2="430.0" y2="4480"/>
<line x1="737.2" y1="4452" x2="737.2" y2="4480"/>
<line x1="1044.4" y1="4452" x2="1044.4" y2="4480"/>
<line x1="1351.6" y1="4452" x2="1351.6" y2="4480"/>
<line x1="1658.8" y1="4452" x2="1658.8" y2="4480"/>
<line x1="1966.0" y1="4452" x2="1966.0" y2="4480"/>
</g>
<g fill="none" stroke-width="8" stroke-linejoin="round" stroke-linecap="round">
<path d="M278.7,4189.0 C281.6,4183.2 289.5,4167.0 296.0,4154.0 C302.5,4141.0 309.8,4126.9 317.8,4111.0 C325.8,4095.1 336.0,4073.2 344.0,4058.7 C352.0,4044.2 358.4,4033.8 365.6,4024.0 C372.8,4014.2 379.0,4005.8 387.0,4000.0 C395.0,3994.2 405.5,3990.5 413.5,3989.0 C421.5,3987.5 427.1,3989.2 435.0,3991.0 C442.9,3992.8 450.8,3996.0 461.0,4000.0 C471.2,4004.0 482.9,4009.6 496.0,4015.0 C509.1,4020.4 525.1,4027.1 539.6,4032.6 C554.1,4038.1 568.5,4042.9 583.0,4048.0 C597.5,4053.1 612.0,4058.3 626.5,4063.0 C641.0,4067.7 655.5,4071.7 670.0,4076.0 C684.5,4080.3 696.8,4084.7 713.5,4089.0 C730.2,4093.3 746.6,4097.3 770.0,4102.0 C793.4,4106.7 822.5,4111.6 854.0,4117.0 C885.5,4122.4 934.4,4130.3 958.7,4134.6 C983.0,4138.9 988.0,4139.7 1000.0,4142.6 C1012.0,4145.5 1021.2,4147.8 1031.0,4152.0 C1040.8,4156.2 1047.8,4162.1 1059.0,4168.0 C1070.2,4173.9 1085.0,4182.4 1098.0,4187.6 C1111.0,4192.8 1125.3,4196.4 1137.0,4199.0 C1148.7,4201.6 1156.9,4203.0 1168.0,4203.0 C1179.1,4203.0 1192.2,4199.3 1203.4,4199.0 C1214.6,4198.7 1224.6,4199.0 1235.0,4201.0 C1245.4,4203.0 1253.0,4208.3 1266.0,4211.0 C1279.0,4213.7 1295.4,4215.3 1313.0,4217.0 C1330.6,4218.7 1348.9,4219.8 1371.7,4221.0 C1394.5,4222.2 1419.3,4222.4 1450.0,4224.0 C1480.7,4225.6 1519.5,4228.6 1556.0,4230.6 C1592.5,4232.6 1640.7,4234.1 1669.0,4236.0 C1697.3,4237.9 1706.9,4240.1 1725.7,4242.0 C1744.5,4243.9 1763.1,4247.4 1782.0,4247.6 C1800.9,4247.8 1820.2,4244.5 1839.0,4243.0 C1857.8,4241.5 1874.3,4240.4 1895.0,4238.6 C1915.7,4236.8 1951.7,4233.1 1963.0,4232.0" stroke="#e8141c"/>
<path d="M278.7,4063.0 C281.6,4057.5 290.2,4040.2 296.0,4030.0 C301.8,4019.8 307.0,4011.2 313.5,4002.0 C320.0,3992.8 327.8,3983.2 335.0,3975.0 C342.2,3966.8 349.0,3959.0 357.0,3953.0 C365.0,3947.0 373.6,3941.8 383.0,3939.0 C392.4,3936.2 404.8,3934.8 413.5,3936.0 C422.2,3937.2 427.8,3942.0 435.0,3946.0 C442.2,3950.0 449.7,3954.7 457.0,3960.0 C464.3,3965.3 470.7,3972.0 478.7,3978.0 C486.7,3984.0 494.9,3990.2 505.0,3996.0 C515.1,4001.8 526.6,4007.3 539.6,4013.0 C552.6,4018.7 568.5,4024.7 583.0,4030.0 C597.5,4035.3 612.0,4040.2 626.5,4045.0 C641.0,4049.8 655.5,4054.7 670.0,4059.0 C684.5,4063.3 700.2,4067.2 713.5,4071.0 C726.8,4074.8 735.2,4078.0 750.0,4082.0 C764.8,4086.0 784.7,4091.2 802.0,4095.0 C819.3,4098.8 836.6,4102.0 854.0,4105.0 C871.4,4108.0 889.0,4110.8 906.5,4113.0 C924.0,4115.2 943.1,4115.5 958.7,4118.0 C974.3,4120.5 986.6,4124.3 1000.0,4128.0 C1013.4,4131.7 1026.0,4136.0 1039.0,4140.0 C1052.0,4144.0 1065.0,4148.3 1078.0,4152.0 C1091.0,4155.7 1103.9,4159.0 1117.0,4162.0 C1130.1,4165.0 1143.4,4167.7 1156.5,4170.0 C1169.6,4172.3 1182.5,4174.2 1195.6,4176.0 C1208.7,4177.8 1221.9,4179.7 1235.0,4181.0 C1248.1,4182.3 1261.0,4183.2 1274.0,4184.0 C1287.0,4184.8 1300.0,4186.0 1313.0,4186.0 C1326.0,4186.0 1339.0,4185.0 1352.0,4184.0 C1365.0,4183.0 1375.8,4183.0 1391.0,4180.0 C1406.2,4177.0 1424.9,4170.7 1443.0,4166.0 C1461.1,4161.3 1480.8,4156.7 1499.6,4152.0 C1518.4,4147.3 1537.2,4143.0 1556.0,4138.0 C1574.8,4133.0 1593.8,4126.7 1612.6,4122.0 C1631.4,4117.3 1650.2,4112.0 1669.0,4110.0 C1687.8,4108.0 1706.9,4110.3 1725.7,4110.0 C1744.5,4109.7 1763.1,4109.2 1782.0,4108.0 C1800.9,4106.8 1824.8,4104.2 1839.0,4103.0 C1853.2,4101.8 1857.7,4100.9 1867.0,4100.6 C1876.3,4100.3 1885.6,4100.1 1895.0,4101.0 C1904.4,4101.9 1912.3,4104.5 1923.6,4106.0 C1934.9,4107.5 1956.4,4109.3 1963.0,4110.0" stroke="#f28c1e"/>
<path d="M278.7,4085.0 C281.6,4077.7 290.2,4053.3 296.0,4041.0 C301.8,4028.7 307.0,4021.2 313.5,4011.0 C320.0,4000.8 327.8,3989.1 335.0,3980.0 C342.2,3970.9 349.0,3963.3 357.0,3956.5 C365.0,3949.7 373.6,3943.0 383.0,3939.0 C392.4,3935.0 404.8,3931.5 413.5,3932.6 C422.2,3933.7 427.8,3940.5 435.0,3945.6 C442.2,3950.7 449.7,3956.4 457.0,3963.0 C464.3,3969.6 470.7,3977.8 478.7,3985.0 C486.7,3992.2 494.6,4000.0 504.8,4006.5 C515.0,4013.0 526.6,4018.2 539.6,4024.0 C552.6,4029.8 568.5,4035.6 583.0,4041.0 C597.5,4046.4 612.0,4051.7 626.5,4056.5 C641.0,4061.3 655.5,4065.7 670.0,4069.6 C684.5,4073.5 696.8,4075.8 713.5,4080.0 C730.2,4084.2 746.6,4090.0 770.0,4095.0 C793.4,4100.0 822.7,4105.2 854.0,4110.0 C885.3,4114.8 933.7,4120.0 958.0,4124.0 C982.3,4128.0 976.3,4127.7 1000.0,4134.0 C1023.7,4140.3 1066.7,4154.2 1100.0,4162.0 C1133.3,4169.8 1164.5,4176.2 1200.0,4181.0 C1235.5,4185.8 1281.2,4190.3 1313.0,4191.0 C1344.8,4191.7 1369.3,4188.2 1391.0,4185.0 C1412.7,4181.8 1415.5,4179.0 1443.0,4172.0 C1470.5,4165.0 1518.3,4152.2 1556.0,4143.0 C1593.7,4133.8 1640.8,4121.2 1669.0,4117.0 C1697.2,4112.8 1709.8,4117.3 1725.0,4118.0 C1740.2,4118.7 1747.5,4121.2 1760.0,4121.0 C1772.5,4120.8 1777.5,4118.7 1800.0,4117.0 C1822.5,4115.3 1867.8,4111.3 1895.0,4111.0 C1922.2,4110.7 1951.7,4114.3 1963.0,4115.0" stroke="#000"/>
<path d="M278.7,4163.0 C281.6,4152.8 290.2,4123.0 296.0,4102.0 C301.8,4081.0 307.7,4057.3 313.5,4037.0 C319.3,4016.7 325.2,3997.3 331.0,3980.0 C336.8,3962.7 342.2,3944.5 348.0,3933.0 C353.8,3921.5 359.4,3915.8 365.6,3911.0 C371.8,3906.2 378.4,3902.2 385.0,3904.0 C391.6,3905.8 398.1,3916.2 405.0,3922.0 C411.9,3927.8 418.6,3933.7 426.5,3939.0 C434.4,3944.3 441.0,3947.8 452.6,3954.0 C464.2,3960.2 481.5,3969.0 496.0,3976.0 C510.5,3983.0 525.1,3989.2 539.6,3996.0 C554.1,4002.8 568.5,4010.2 583.0,4017.0 C597.5,4023.8 612.0,4030.8 626.5,4037.0 C641.0,4043.2 655.5,4048.2 670.0,4054.0 C684.5,4059.8 700.2,4065.7 713.5,4072.0 C726.8,4078.3 735.2,4086.2 750.0,4092.0 C764.8,4097.8 779.4,4100.7 802.0,4107.0 C824.6,4113.3 859.5,4124.8 885.6,4130.0 C911.7,4135.2 938.7,4134.7 958.7,4138.0 C978.7,4141.3 988.9,4146.3 1005.6,4150.0 C1022.3,4153.7 1040.4,4156.3 1059.0,4160.0 C1077.6,4163.7 1094.3,4168.0 1117.0,4172.0 C1139.7,4176.0 1168.8,4180.4 1195.0,4184.0 C1221.2,4187.6 1254.3,4191.7 1274.0,4193.5 C1293.7,4195.3 1300.0,4194.4 1313.0,4195.0 C1326.0,4195.6 1339.0,4196.2 1352.0,4197.0 C1365.0,4197.8 1375.8,4198.9 1391.0,4200.0 C1406.2,4201.1 1424.9,4202.0 1443.0,4203.5 C1461.1,4205.0 1480.8,4208.6 1499.6,4209.0 C1518.4,4209.4 1537.2,4205.2 1556.0,4206.0 C1574.8,4206.8 1593.8,4212.4 1612.6,4213.7 C1631.4,4215.0 1650.2,4213.5 1669.0,4213.7 C1687.8,4213.9 1706.9,4215.0 1725.7,4215.0 C1744.5,4215.0 1763.1,4213.7 1782.0,4213.7 C1800.9,4213.7 1824.8,4216.5 1839.0,4215.0 C1853.2,4213.5 1858.6,4204.6 1867.0,4204.6 C1875.4,4204.6 1881.1,4211.9 1889.6,4215.0 C1898.1,4218.1 1909.5,4222.6 1918.0,4223.0 C1926.5,4223.4 1934.4,4221.8 1940.5,4217.6 C1946.6,4213.4 1950.8,4204.6 1954.6,4198.0 C1958.3,4191.4 1961.6,4181.3 1963.0,4178.0" stroke="#f019f0"/>
<path d="M278.7,4041.0 C281.6,4038.2 288.8,4030.2 296.0,4024.0 C303.2,4017.8 311.8,4010.5 322.0,4004.0 C332.2,3997.5 345.4,3990.3 357.0,3985.0 C368.6,3979.7 380.1,3975.3 391.7,3972.0 C403.3,3968.7 416.4,3965.9 426.5,3965.0 C436.6,3964.1 444.7,3964.3 452.6,3966.5 C460.5,3968.7 465.3,3972.8 474.0,3978.0 C482.7,3983.2 494.1,3991.5 505.0,3998.0 C515.9,4004.5 526.6,4010.8 539.6,4017.0 C552.6,4023.2 568.5,4029.5 583.0,4035.0 C597.5,4040.5 612.0,4045.0 626.5,4050.0 C641.0,4055.0 655.5,4060.3 670.0,4065.0 C684.5,4069.7 700.2,4074.0 713.5,4078.0 C726.8,4082.0 735.2,4085.0 750.0,4089.0 C764.8,4093.0 784.7,4098.2 802.0,4102.0 C819.3,4105.8 836.6,4109.0 854.0,4112.0 C871.4,4115.0 889.0,4117.8 906.5,4120.0 C924.0,4122.2 943.1,4122.5 958.7,4125.0 C974.3,4127.5 986.6,4131.4 1000.0,4135.0 C1013.4,4138.6 1026.0,4142.7 1039.0,4146.5 C1052.0,4150.3 1065.0,4154.4 1078.0,4158.0 C1091.0,4161.6 1103.9,4165.0 1117.0,4168.0 C1130.1,4171.0 1143.4,4173.7 1156.5,4176.0 C1169.6,4178.3 1182.5,4180.3 1195.6,4182.0 C1208.7,4183.7 1221.9,4184.7 1235.0,4186.0 C1248.1,4187.3 1261.0,4188.9 1274.0,4190.0 C1287.0,4191.1 1300.0,4192.7 1313.0,4192.7 C1326.0,4192.7 1339.0,4191.1 1352.0,4190.0 C1365.0,4188.9 1375.8,4188.7 1391.0,4186.0 C1406.2,4183.3 1424.9,4178.7 1443.0,4174.0 C1461.1,4169.3 1480.8,4163.0 1499.6,4158.0 C1518.4,4153.0 1537.2,4148.8 1556.0,4144.0 C1574.8,4139.2 1593.8,4133.2 1612.6,4129.0 C1631.4,4124.8 1650.2,4121.2 1669.0,4119.0 C1687.8,4116.8 1706.9,4117.0 1725.7,4116.0 C1744.5,4115.0 1763.1,4114.0 1782.0,4113.0 C1800.9,4112.0 1820.2,4110.2 1839.0,4110.0 C1857.8,4109.8 1874.3,4111.0 1895.0,4112.0 C1915.7,4113.0 1951.7,4115.3 1963.0,4116.0" stroke="#1010e0"/>
</g>
<g fill="none">
<line x1="852" y1="3402" x2="1033" y2="3402" stroke="#f019f0" stroke-width="7" stroke-linecap="round"/>
<line x1="852" y1="3503" x2="1033" y2="3503" stroke="#e8141c" stroke-width="4" stroke-linecap="round"/>
<line x1="852" y1="3603" x2="1033" y2="3603" stroke="#1010c8" stroke-width="4" stroke-linecap="round"/>
<line x1="852" y1="3701" x2="1033" y2="3701" stroke="#f28c1e" stroke-width="7" stroke-linecap="round"/>
<line x1="852" y1="3799" x2="1033" y2="3799" stroke="#000" stroke-width="7" stroke-linecap="round"/>
</g>
<g font-family="'Liberation Sans',Arial,sans-serif" font-weight="bold" font-size="71.5" fill="#000">
<text x="1050" y="3430">Left #1</text>
<text x="1050" y="3529">Top #2</text>
<text x="1050" y="3629">Right #3</text>
<text x="1050" y="3727.5">Bottom #4</text>
<text x="1050" y="3826.6">Center #5</text>
</g>
<g font-family="'Liberation Sans',Arial,sans-serif" font-weight="bold" font-size="72.5" fill="#000">
<text x="235" y="4474.5" text-anchor="end">0</text>
<text x="235" y="4228.1" text-anchor="end">2</text>
<text x="235" y="3981.7" text-anchor="end">4</text>
<text x="235" y="3735.3" text-anchor="end">6</text>
<text x="235" y="3488.9" text-anchor="end">8</text>
<text x="235" y="3242.5" text-anchor="end">10</text>
<text x="430.0" y="4553" text-anchor="middle">400</text>
<text x="737.2" y="4553" text-anchor="middle">600</text>
<text x="1044.4" y="4553" text-anchor="middle">800</text>
<text x="1351.6" y="4553" text-anchor="middle">1000</text>
<text x="1658.8" y="4553" text-anchor="middle">1200</text>
<text x="1966.0" y="4553" text-anchor="middle">1400</text>
<text x="1153" y="4633" text-anchor="middle" font-size="73.3">Wavelength (nm)</text>
<text transform="translate(114.6,3827) rotate(-90)" text-anchor="middle" font-size="73">Reflectance (%)</text>
</g>
<text transform="translate(320.6,3372.8) scale(0.751,1)" font-family="Liberation Sans,Arial,sans-serif" font-size="141.3" fill="#000" stroke="#000" stroke-width="3.0">(</text>
<text transform="translate(370.3,3371.5) scale(1.128,1)" font-family="Liberation Sans,Arial,sans-serif" font-size="133.8" fill="#000" stroke="#000" stroke-width="3.0">c</text>
<text transform="translate(457.9,3372.8) scale(0.806,1)" font-family="Liberation Sans,Arial,sans-serif" font-size="141.3" fill="#000" stroke="#000" stroke-width="3.0">)</text>
</svg>
</body></html>
